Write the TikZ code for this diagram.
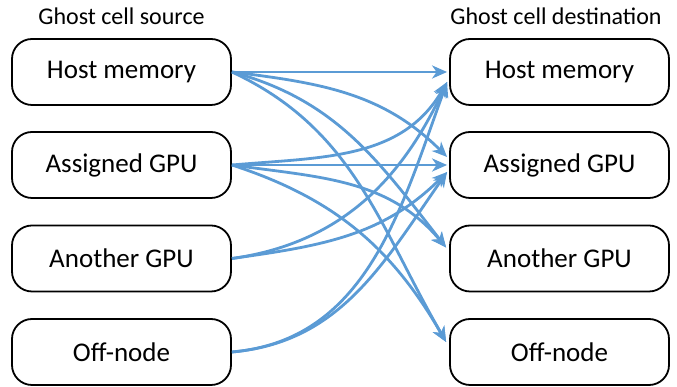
\documentclass[tikz,border=0pt]{standalone}
\usepackage{fontspec}
\setmainfont{Carlito}
\usetikzlibrary{arrows.meta}
\definecolor{linkblue}{HTML}{5B9BD5}
\begin{document}
\begin{tikzpicture}[x=1pt,y=1pt,
  box/.style={draw=black, line width=1.8pt, rounded corners=20pt,
    minimum width=219pt, minimum height=66pt, inner sep=0pt,
    font=\fontsize{27}{31}\selectfont},
  heading/.style={font=\fontsize{24}{28}\selectfont, anchor=base, inner sep=0pt},
  link/.style={draw=linkblue, line width=2.8pt,
    -{Stealth[length=15pt,width=13pt,inset=4.5pt]}}
]
\useasboundingbox (0,0) rectangle (677,387);

% column headings
\node[heading] (hsrc) at (121.5,362) {Ghost cell source};
\node[heading] (hdst) at (556,362) {Ghost cell destination};

% source boxes
\node[box] (s1) at (121.5,315)   {Host memory};
\node[box] (s2) at (121.5,222)   {Assigned GPU};
\node[box] (s3) at (121.5,128.5) {Another GPU};
\node[box] (s4) at (121.5,35)    {Off-node};

% destination boxes
\node[box] (d1) at (559.5,315)   {Host memory};
\node[box] (d2) at (559.5,222)   {Assigned GPU};
\node[box] (d3) at (559.5,128.5) {Another GPU};
\node[box] (d4) at (559.5,35)    {Off-node};

% arrow landing points on the destination boxes
\coordinate (d1mid) at ([xshift=-2pt]d1.west);
\coordinate (d1low) at ([xshift=-2pt,yshift=-10pt]d1.west);
\coordinate (d2up)  at ([xshift=-2pt,yshift=8pt]d2.west);
\coordinate (d2mid) at ([xshift=-2pt]d2.west);
\coordinate (d2low) at ([xshift=-2pt,yshift=-7pt]d2.west);
\coordinate (d3up)  at ([xshift=-3pt,yshift=11pt]d3.west);
\coordinate (d4up)  at ([xshift=-3pt,yshift=10pt]d4.west);

% from host memory
\draw[link] (s1.east) -- (d1mid);
\draw[link] (s1.east) to[out=-7,in=135]  (d2up);
\draw[link] (s1.east) to[out=-15,in=128] (d3up);
\draw[link] (s1.east) to[out=-25,in=120] (d4up);

% from the assigned GPU
\draw[link] (s2.east) to[out=5,in=-120]  (d1low);
\draw[link] (s2.east) -- (d2mid);
\draw[link] (s2.east) to[out=-8,in=130]  (d3up);
\draw[link] (s2.east) to[out=-18,in=120] (d4up);

% from another GPU
\draw[link] (s3.east) to[out=8,in=-115] (d1low);
\draw[link] (s3.east) to[out=8,in=-135] (d2low);

% from off-node
\draw[link] (s4.east) to[out=5,in=-110] (d1low);
\draw[link] (s4.east) to[out=5,in=-125] (d2low);
\end{tikzpicture}
\end{document}
